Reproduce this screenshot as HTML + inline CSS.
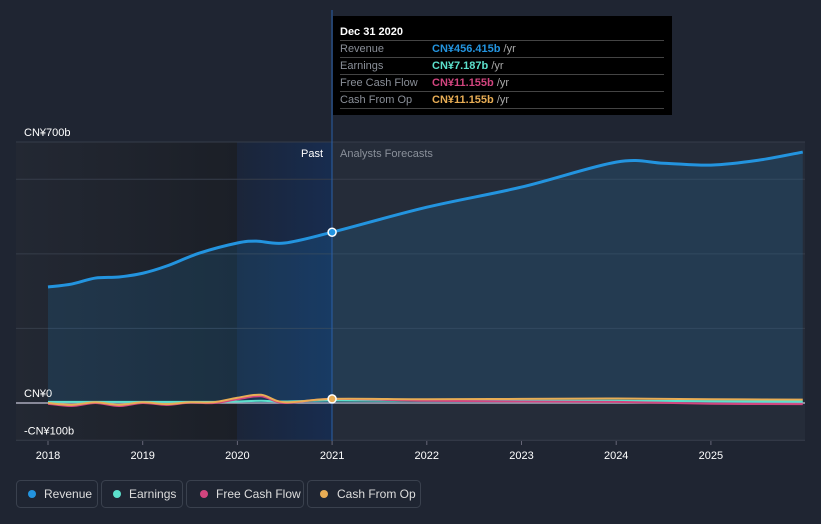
<!DOCTYPE html>
<html><head><meta charset="utf-8"><style>
body{margin:0;background:#1f2532;font-family:"Liberation Sans",sans-serif;}
svg{display:block}
</style></head><body>
<svg width="821" height="524" id="c">
<rect x="0" y="0" width="821" height="524" fill="#1f2532"/>
<rect x="16" y="142" width="789" height="299" fill="#252c39"/>
<defs><linearGradient id="dk" x1="0" x2="1"><stop offset="0" stop-color="#232833"/><stop offset="1" stop-color="#1b1f27"/></linearGradient>
<linearGradient id="hl" x1="0" x2="1"><stop offset="0" stop-color="#1b2539"/><stop offset="1" stop-color="#172c4f"/></linearGradient></defs>
<rect x="16" y="142" width="221" height="299" fill="url(#dk)"/>
<rect x="237" y="142" width="95" height="299" fill="url(#hl)"/>
<g id="grid"></g>
<g id="series"></g>
<line x1="332" y1="10" x2="332" y2="441" stroke="#2a5fa8" stroke-width="1"/>
<text x="323" y="157" fill="#fff" font-size="11" text-anchor="end">Past</text>
<text x="340" y="157" fill="#8a909a" font-size="11">Analysts Forecasts</text>
<g id="axis"></g>
<g id="dots"></g>
<g>
<rect x="333" y="16" width="339" height="99" fill="#000"/>
<text x="340" y="35" fill="#fff" font-size="11" font-weight="bold">Dec 31 2020</text>
<line x1="340" x2="664" y1="40.5" y2="40.5" stroke="#444"/>
<text x="340" y="52" fill="#8a8f98" font-size="11">Revenue</text>
<text x="432" y="52" font-size="11"><tspan fill="#2394df" font-weight="bold">CN¥456.415b</tspan><tspan fill="#aaa"> /yr</tspan></text>
<line x1="340" x2="664" y1="57.5" y2="57.5" stroke="#444"/>
<text x="340" y="69" fill="#8a8f98" font-size="11">Earnings</text>
<text x="432" y="69" font-size="11"><tspan fill="#5ce0cc" font-weight="bold">CN¥7.187b</tspan><tspan fill="#aaa"> /yr</tspan></text>
<line x1="340" x2="664" y1="74.5" y2="74.5" stroke="#444"/>
<text x="340" y="86" fill="#8a8f98" font-size="11">Free Cash Flow</text>
<text x="432" y="86" font-size="11"><tspan fill="#d2457f" font-weight="bold">CN¥11.155b</tspan><tspan fill="#aaa"> /yr</tspan></text>
<line x1="340" x2="664" y1="91.5" y2="91.5" stroke="#444"/>
<text x="340" y="103" fill="#8a8f98" font-size="11">Cash From Op</text>
<text x="432" y="103" font-size="11"><tspan fill="#e8ad55" font-weight="bold">CN¥11.155b</tspan><tspan fill="#aaa"> /yr</tspan></text>
<line x1="340" x2="664" y1="108.5" y2="108.5" stroke="#444"/>
</g>
<g>
<rect x="16.5" y="480.5" width="81" height="27" rx="4" fill="none" stroke="#3a414e"/>
<circle cx="32" cy="494" r="4" fill="#2394df"/><text x="44" y="498" fill="#ddd" font-size="12">Revenue</text>
<rect x="101.5" y="480.5" width="81" height="27" rx="4" fill="none" stroke="#3a414e"/>
<circle cx="117" cy="494" r="4" fill="#5ce0cc"/><text x="129" y="498" fill="#ddd" font-size="12">Earnings</text>
<rect x="186.5" y="480.5" width="117" height="27" rx="4" fill="none" stroke="#3a414e"/>
<circle cx="204" cy="494" r="4" fill="#d2457f"/><text x="216" y="498" fill="#ddd" font-size="12">Free Cash Flow</text>
<rect x="307.5" y="480.5" width="113" height="27" rx="4" fill="none" stroke="#3a414e"/>
<circle cx="324" cy="494" r="4" fill="#e8ad55"/><text x="337" y="498" fill="#ddd" font-size="12">Cash From Op</text>
</g>
</svg>
<script>
const years=[2018,2018.25,2018.5,2018.75,2019,2019.25,2019.6,2020,2020.2,2020.5,2021,2022,2023,2024,2024.5,2025,2025.5,2025.97];
const revenue=[311,319,335,338,348,367,402,429,434,429,458,525,579,646,643,638,651,673];
const smallYears=[2018,2018.25,2018.5,2018.75,2019,2019.25,2019.5,2019.75,2020,2020.25,2020.5,2021,2022,2023,2024,2025,2025.97];
const earnings=[3,3,3,3,3,3,3,3,4,6,4,7,6,6,6,5,4];
const fcf=[-2,-8,0,-8,0,-5,1,0,10,18,0,11,6,4,3,-2,-3];
const cfo=[0,-5,2,-5,2,-3,2,2,14,22,2,11,10,11,12,10,9];
const yTicks=[-100,0,200,400,600,700];
const yLabels={"700":"CN¥700b","0":"CN¥0","-100":"-CN¥100b"};
const xTicks=[2018,2019,2020,2021,2022,2023,2024,2025];
const X=v=>48+(v-2018)*94.7, Y=v=>403-v*0.3729;
const ns="http://www.w3.org/2000/svg";
function mk(t,a,p){const e=document.createElementNS(ns,t);for(const k in a)e.setAttribute(k,a[k]);p.appendChild(e);return e;}
const grid=document.getElementById('grid'),ser=document.getElementById('series'),ax=document.getElementById('axis'),dots=document.getElementById('dots');
yTicks.forEach(v=>{const g=mk('line',{x1:16,x2:805,y1:Y(v),y2:Y(v),stroke:v===0?'#aab':'#363d4a','stroke-width':v===0?1.5:1},grid);


if(yLabels[v]!==undefined){const t=mk('text',{x:24,y:Y(v)-6,fill:'#fff','font-size':11},ax);t.textContent=yLabels[v];

}});
xTicks.forEach(v=>{mk('line',{x1:X(v),x2:X(v),y1:441,y2:445,stroke:'#667'},ax);const t=mk('text',{x:X(v),y:459,fill:'#fff','font-size':11,'text-anchor':'middle'},ax);t.textContent=v;

});
function path(xs,vs){const p=xs.map((x,i)=>[X(x),Y(vs[i])]);let d='M'+p[0];
for(let i=0;i<p.length-1;i++){const p0=p[Math.max(0,i-1)],p1=p[i],p2=p[i+1],p3=p[Math.min(p.length-1,i+2)];
const c1=[p1[0]+(p2[0]-p0[0])/6,p1[1]+(p2[1]-p0[1])/6],c2=[p2[0]-(p3[0]-p1[0])/6,p2[1]-(p3[1]-p1[1])/6];
d+=` C${c1} ${c2} ${p2}`;}return d;}
const rd=path(years,revenue);
const area=mk('path',{d:rd+` L${X(years[years.length-1])},${Y(0)} L${X(years[0])},${Y(0)} Z`,fill:'#2394df','fill-opacity':0.15},ser);


[[earnings,'#5ce0cc','earnings-line'],[fcf,'#d2457f','free-cash-flow-line'],[cfo,'#e8ad55','cash-from-op-line']].forEach(([vs,c,n])=>{
const e=mk('path',{d:path(smallYears,vs),fill:'none',stroke:c,'stroke-width':2},ser);

});
const rl=mk('path',{d:rd,fill:'none',stroke:'#2394df','stroke-width':3},ser);


const d1=mk('circle',{cx:X(2021),cy:Y(revenue[10]),r:4,fill:'#2394df',stroke:'#fff','stroke-width':1.5},dots);


const d2=mk('circle',{cx:X(2021),cy:Y(cfo[11]),r:4,fill:'#e8ad55',stroke:'#fff','stroke-width':1.5},dots);


</script>
</body></html>
